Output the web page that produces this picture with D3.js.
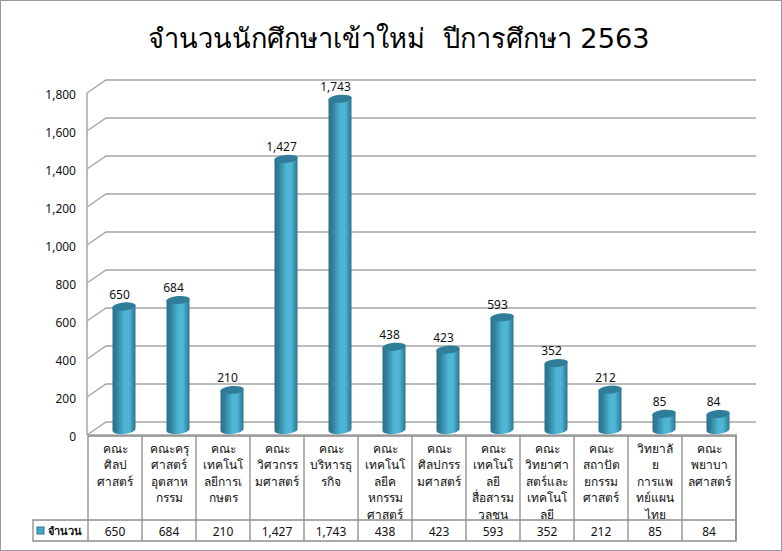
<!DOCTYPE html>
<html><head><meta charset="utf-8">
<script src="https://cdn.jsdelivr.net/npm/d3@7"></script>
<style>
html,body{margin:0;padding:0;background:#fff}
svg{display:block}
text{font-family:"DejaVu Sans","Noto Sans",sans-serif;fill:#111}
</style></head><body><svg id="c" width="782" height="551"></svg>
<script>
const title = "จำนวนนักศึกษาเข้าใหม่  ปีการศึกษา 2563";
const seriesName = "จำนวน";
const categories = ["คณะ\nศิลป\nศาสตร์","คณะครุ\nศาสตร์\nอุตสาห\nกรรม","คณะ\nเทคโนโ\nลยีการเ\nกษตร","คณะ\nวิศวกรร\nมศาสตร์","คณะ\nบริหารธุ\nรกิจ","คณะ\nเทคโนโ\nลยีค\nหกรรม\nศาสตร์","คณะ\nศิลปกรร\nมศาสตร์","คณะ\nเทคโนโ\nลยี\nสื่อสารม\nวลชน","คณะ\nวิทยาศา\nสตร์และ\nเทคโนโ\nลยี","คณะ\nสถาปัต\nยกรรม\nศาสตร์","วิทยาลั\nย\nการแพ\nทย์แผน\nไทย","คณะ\nพยาบา\nลศาสตร์"];
const values = [650,684,210,1427,1743,438,423,593,352,212,85,84];
const yTicks = [0,200,400,600,800,1000,1200,1400,1600,1800];

const svg = d3.select("#c");
const fmt = d3.format(",");
const numFont = '"Noto Sans"';
const depthX = 19, depthY = 13;
const x = d3.scaleBand().domain(d3.range(categories.length)).range([88,736]);
const y = d3.scaleLinear().domain([0,1800]).range([435,93]);
const grey = "#a6a6a6", tableGrey = "#8c8c8c";

const defs = svg.append("defs");
const g = defs.append("linearGradient").attr("id","cyl");
[[0,"#2b6f89"],[.18,"#317f9c"],[.5,"#4db4d4"],[.72,"#4fb6d6"],[1,"#2c7590"]].forEach(s=>g.append("stop").attr("offset",s[0]).attr("stop-color",s[1]));

svg.append("rect").attr("x",.5).attr("y",.5).attr("width",781).attr("height",550).attr("fill","#fff").attr("stroke","#9a9a9a");
svg.append("text").attr("x",399).attr("y",48).attr("text-anchor","middle").attr("font-size",27.2).attr("xml:space","preserve").style("white-space","pre").style("fill","#000").text(title);

// walls
const grid = svg.append("g").attr("fill","none").attr("stroke",grey).attr("stroke-width",1.5);
yTicks.forEach(t=>{
  grid.append("path").attr("d",`M${x.range()[0]-1},${y(t)}L${x.range()[0]-1+depthX},${y(t)-depthY}H756`);
});
grid.append("path").attr("d",`M87,${y(0)}V${y(1800)}`);
grid.append("path").attr("d",`M87,${y(0)}H737`);

// axis
const axis = d3.axisLeft(y).tickValues(yTicks).tickFormat(fmt).tickSize(0).tickPadding(0);
const ag = svg.append("g").attr("transform","translate(76,2)").call(axis);
ag.select(".domain").remove();
ag.selectAll("text").attr("font-size",12).style("font-family",numFont).style("fill","#111");

// cylinders
const rx = 11.5, ry = 4, tilt = -5, baseY = y(0)-5;
const cx = i => x(i)+x.bandwidth()/2+9;
const bars = svg.append("g").selectAll("g").data(values).join("g");
bars.append("path").attr("fill","url(#cyl)").attr("d",(d,i)=>{
  const top = y(d)-5, c = cx(i), k = 1;
  return `M${c-rx},${top+k}L${c-rx},${baseY+k}A${rx},${ry} ${tilt} 0 0 ${c+rx},${baseY-k}L${c+rx},${top-k}Z`;
});
bars.append("ellipse").attr("cx",(d,i)=>cx(i)).attr("cy",d=>y(d)-5).attr("rx",rx+.3).attr("ry",ry)
  .attr("transform",(d,i)=>`rotate(${tilt} ${cx(i)} ${y(d)-5})`).attr("fill","#2f7d99");
bars.append("text").attr("x",(d,i)=>cx(i)-4.5).attr("y",d=>y(d)-13).attr("text-anchor","middle")
  .attr("font-size",12).style("font-family",numFont).text(d=>fmt(d));

// data table
const tTop = 436, tMid = 520, tBot = 541, tLeft = 33;
const tb = svg.append("g").attr("stroke",tableGrey).attr("stroke-width",1.3).attr("fill","none");
tb.append("path").attr("d",`M88,${tTop}H736V${tBot}H${tLeft}V${tMid}H736`);
d3.range(categories.length+1).forEach(i=>{
  const xx = i===categories.length ? 736 : x(i);
  tb.append("path").attr("d",`M${xx},${tTop}V${tBot}`);
});
categories.forEach((c,i)=>{
  const t = svg.append("text").attr("text-anchor","middle").attr("font-size",12);
  c.split("\n").forEach((l,j)=>t.append("tspan").attr("x",x(i)+x.bandwidth()/2).attr("y",453+j*16.4).text(l));
});
svg.selectAll(".v").data(values).join("text").attr("class","v")
  .attr("x",(d,i)=>x(i)+x.bandwidth()/2).attr("y",536).attr("text-anchor","middle")
  .attr("font-size",12).style("font-family",numFont).text(d=>fmt(d));
svg.append("rect").attr("x",37).attr("y",527).attr("width",7).attr("height",7).attr("fill","#45a8c8").attr("stroke","#2c7590");
svg.append("text").attr("x",48).attr("y",535).attr("font-size",11).attr("font-weight","bold").text(seriesName);
</script></body></html>
